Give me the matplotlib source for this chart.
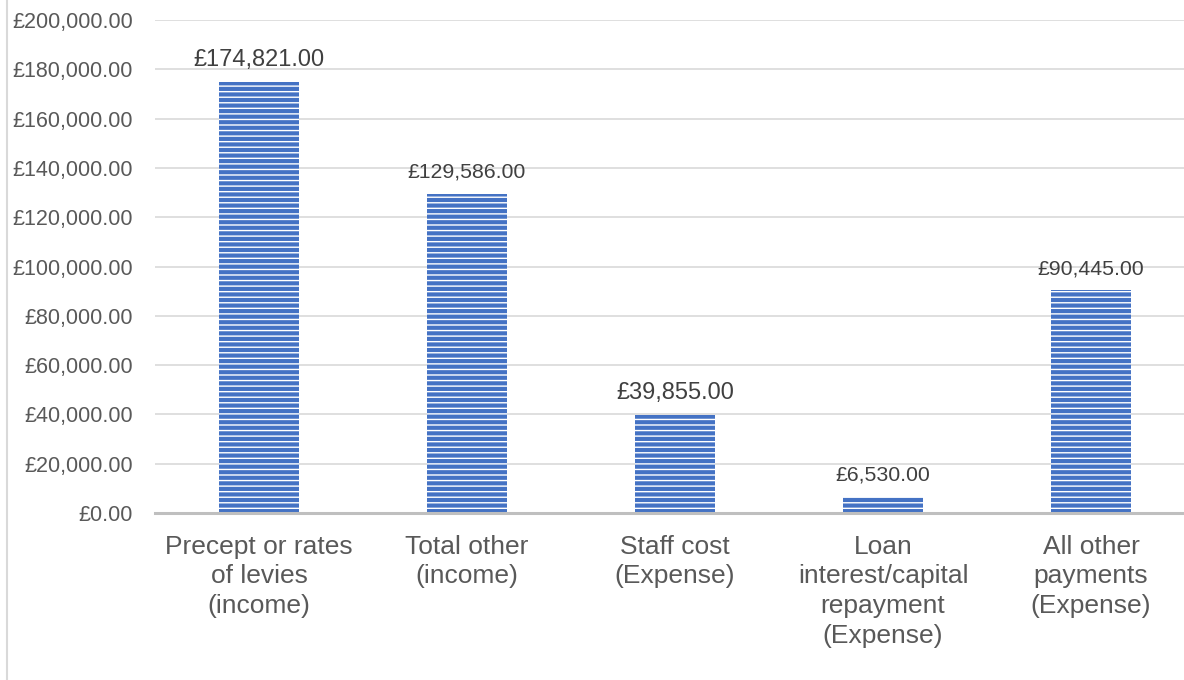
import matplotlib
import matplotlib.pyplot as plt
from matplotlib.lines import Line2D
from matplotlib.ticker import FuncFormatter

matplotlib.use("Agg")

categories = [
    "Precept or rates\nof levies\n(income)",
    "Total other\n(income)",
    "Staff cost\n(Expense)",
    "Loan\ninterest/capital\nrepayment\n(Expense)",
    "All other\npayments\n(Expense)",
]
amounts = [174821, 129586, 39855, 6530, 90445]
label_sizes = [17, 15.3, 17, 15.3, 15.3]
y_ticks = list(range(0, 200001, 20000))

plt.rcParams["font.family"] = ["Liberation Sans", "DejaVu Sans"]
plt.rcParams["hatch.color"] = "white"
plt.rcParams["hatch.linewidth"] = 1.0

fig = plt.figure(figsize=(11.84, 6.8), dpi=100)
ax = fig.add_axes([155 / 1184, 167 / 680, 1040 / 1184, 493 / 680])

x = list(range(len(categories)))
ax.bar(x, amounts, width=0.38, color="#4472C4", hatch="---", zorder=2)

for xi, value, size in zip(x, amounts, label_sizes):
    ax.annotate(
        f"£{value:,.2f}",
        (xi, value),
        xytext=(0, 11.5),
        textcoords="offset points",
        ha="center",
        va="baseline",
        fontsize=size,
        color="#404040",
    )

ax.set_xlim(-0.5, 4.5)
ax.set_ylim(0, 200000)
ax.set_yticks(y_ticks)
ax.yaxis.set_major_formatter(FuncFormatter(lambda v, _: f"£{v:,.2f}"))
ax.set_xticks(x)
ax.set_xticklabels(categories, fontsize=19, color="#595959", linespacing=1.31)
ax.tick_params(axis="y", length=0, pad=16, labelsize=15.5, labelcolor="#595959")
ax.tick_params(axis="x", length=0, pad=15.5)

ax.grid(axis="y", color="#D9D9D9", linewidth=1.2, zorder=0)
for side in ["top", "right", "left"]:
    ax.spines[side].set_visible(False)
ax.spines["bottom"].set_color("#BFBFBF")
ax.spines["bottom"].set_linewidth(2.2)
ax.spines["bottom"].set_zorder(3)

# chart frame, only the left edge falls inside the picture
fig.add_artist(Line2D([7 / 1184, 7 / 1184], [0, 1], transform=fig.transFigure,
                      color="#D9D9D9", linewidth=1.5))

fig.savefig("out.png", dpi=100)
